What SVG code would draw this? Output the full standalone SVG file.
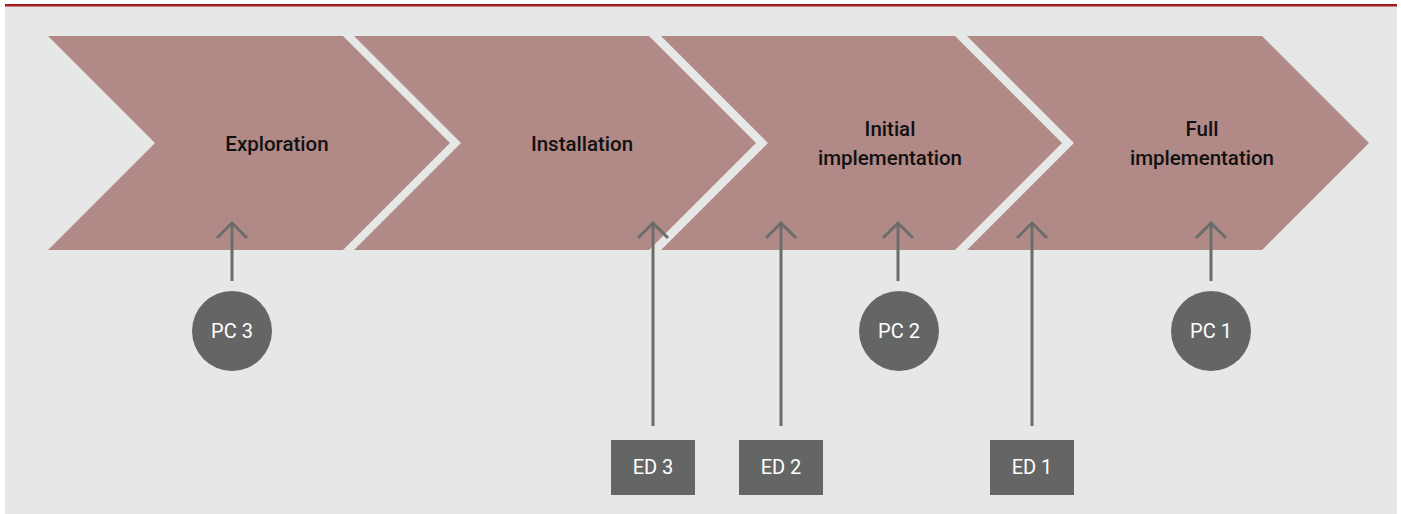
<svg xmlns="http://www.w3.org/2000/svg" width="1401" height="514" viewBox="0 0 1401 514">
<style>
.bg{fill:#e6e8e7}
.chev{fill:#b18986}
.lbl{font-family:Roboto,"Liberation Sans",sans-serif;font-size:20.5px;font-weight:500;fill:#111;text-anchor:middle}
.conn{stroke:#6b6d6c;stroke-width:3;fill:none}
.node{fill:#646665}
.nt{font-family:Roboto,"Liberation Sans",sans-serif;font-size:20px;fill:#fff;text-anchor:middle}
</style>
<rect x="0" y="0" width="1401" height="514" fill="#ffffff"/>
<rect class="bg" x="5" y="6" width="1392" height="508"/>
<rect x="5" y="4" width="1392" height="2.5" fill="#a11d1d"/>
<g id="stage-exploration">
<polygon class="chev" points="48,36 343,36 450,143 343,250 48,250 155,143"/>
<text class="lbl" x="277" y="151">Exploration</text>
</g>
<g id="stage-installation">
<polygon class="chev" points="354,36 649,36 756,143 649,250 354,250 461,143"/>
<text class="lbl" x="582" y="151">Installation</text>
</g>
<g id="stage-initial">
<polygon class="chev" points="661,36 955,36 1062,143 955,250 661,250 768,143"/>
<text class="lbl" x="890" y="136">Initial</text>
<text class="lbl" x="890" y="165">implementation</text>
</g>
<g id="stage-full">
<polygon class="chev" points="967,36 1262,36 1369,143 1262,250 967,250 1074,143"/>
<text class="lbl" x="1202" y="136">Full</text>
<text class="lbl" x="1202" y="165">implementation</text>
</g>
<g id="connectors">
<path class="conn" d="M232,281 V223 M217,238 L232,223 L247,238"/>
<path class="conn" d="M653,426 V223 M638,238 L653,223 L668,238"/>
<path class="conn" d="M781,426 V223 M766,238 L781,223 L796,238"/>
<path class="conn" d="M898,281 V223 M883,238 L898,223 L913,238"/>
<path class="conn" d="M1032,426 V223 M1017,238 L1032,223 L1047,238"/>
<path class="conn" d="M1211,281 V223 M1196,238 L1211,223 L1226,238"/>
</g>
<g id="pc3">
<circle class="node" cx="232" cy="331" r="40"/>
<text class="nt" x="232" y="338">PC 3</text>
</g>
<g id="pc2">
<circle class="node" cx="899" cy="331" r="40"/>
<text class="nt" x="899" y="338">PC 2</text>
</g>
<g id="pc1">
<circle class="node" cx="1211" cy="331" r="40"/>
<text class="nt" x="1211" y="338">PC 1</text>
</g>
<g id="ed3">
<rect class="node" x="611" y="440" width="84" height="55"/>
<text class="nt" x="653" y="474">ED 3</text>
</g>
<g id="ed2">
<rect class="node" x="739" y="440" width="84" height="55"/>
<text class="nt" x="781" y="474">ED 2</text>
</g>
<g id="ed1">
<rect class="node" x="990" y="440" width="84" height="55"/>
<text class="nt" x="1032" y="474">ED 1</text>
</g>
</svg>
